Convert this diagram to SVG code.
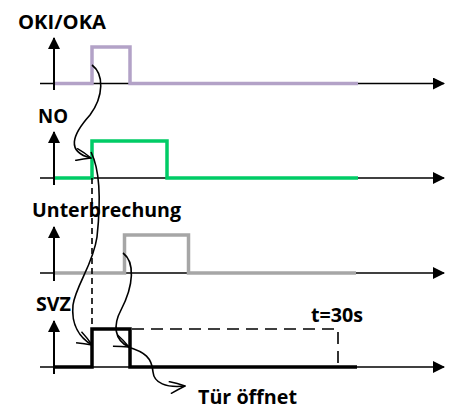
<svg xmlns="http://www.w3.org/2000/svg" width="449" height="410" viewBox="0 0 449 410">
<style>
.lbl{font-family:"Open Sans","Liberation Sans",sans-serif;font-weight:bold;font-size:19px;fill:#000}
.axis{stroke:#000;stroke-width:1.5;fill:none}
.vax{stroke:#000;stroke-width:2;fill:none}
.sig{fill:none;stroke-width:3.5;stroke-linejoin:miter;stroke-linecap:butt}
.cur{fill:none;stroke:#000;stroke-width:1.6;marker-end:url(#open)}
.dash{fill:none;stroke:#000;stroke-width:1.6}
</style>
<defs>
<marker id="open" viewBox="0 0 20 16" markerWidth="18" markerHeight="14" refX="19" refY="8" orient="auto" markerUnits="userSpaceOnUse">
<path d="M1,1 Q11,4 19,8 Q11,11 2,15" fill="none" stroke="#000" stroke-width="1.6"/>
</marker>
<marker id="tri" viewBox="0 0 12 12" markerWidth="12" markerHeight="12" refX="11" refY="6" orient="auto" markerUnits="userSpaceOnUse">
<path d="M0,0 L12,6 L0,12 Z" fill="#000"/>
</marker>
</defs>

<g id="oki">
<text class="lbl" x="18" y="29" textLength="88" lengthAdjust="spacingAndGlyphs">OKI/OKA</text>
<path class="axis" d="M40,83.5 H444" marker-end="url(#tri)"/>
<path class="vax" d="M54,90 V38" marker-end="url(#tri)"/>
<path class="sig" stroke="#b3a2c7" d="M55,83.5 H92 V47 H130 V83.5 H358"/>
</g>

<g id="no">
<text class="lbl" x="38" y="123" textLength="30" lengthAdjust="spacingAndGlyphs">NO</text>
<path class="axis" d="M40,178 H444" marker-end="url(#tri)"/>
<path class="vax" d="M54,185 V132" marker-end="url(#tri)"/>
<path class="sig" stroke="#00cc66" d="M55,178 H92 V141 H167 V178 H358"/>
</g>

<g id="unterbrechung">
<text class="lbl" x="32" y="217" textLength="149" lengthAdjust="spacingAndGlyphs">Unterbrechung</text>
<path class="axis" d="M40,273 H444" marker-end="url(#tri)"/>
<path class="vax" d="M54,281 V227" marker-end="url(#tri)"/>
<path class="sig" stroke="#a6a6a6" d="M55,273 H124.5 V235 H188.5 V273 H356"/>
</g>

<g id="svz">
<text class="lbl" x="36" y="311" textLength="35" lengthAdjust="spacingAndGlyphs">SVZ</text>
<path class="axis" d="M40,367 H444" marker-end="url(#tri)"/>
<path class="vax" d="M54,374 V321" marker-end="url(#tri)"/>
<path class="sig" stroke="#000" d="M55,367 H92 V329 H130 V367 H357"/>
<path class="dash" stroke-dasharray="12,7" d="M132,329 H338 V367"/>
<text class="lbl" x="311" y="322" textLength="52" lengthAdjust="spacingAndGlyphs">t=30s</text>
</g>

<g id="tuer">
<text class="lbl" x="198" y="404" textLength="99" lengthAdjust="spacingAndGlyphs">Tür öffnet</text>
</g>

<g id="connectors">
<path class="dash" stroke-dasharray="6,4" d="M92,178 V329"/>
<path class="cur" d="M92,65 C104,74 104,96 90,115 C72,135 66,152 91,158"/>
<path class="cur" d="M91,152 C100,170 101,200 97,237 C93,265 76,285 73,305 C71,325 80,338 92,345"/>
<path class="cur" d="M123,253 C135,262 134,285 121,310 C113,325 114,340 129,347"/>
<path class="cur" d="M128,347 C145,352 152,358 153,372 C154,383 166,388 185,386"/>
</g>
</svg>
